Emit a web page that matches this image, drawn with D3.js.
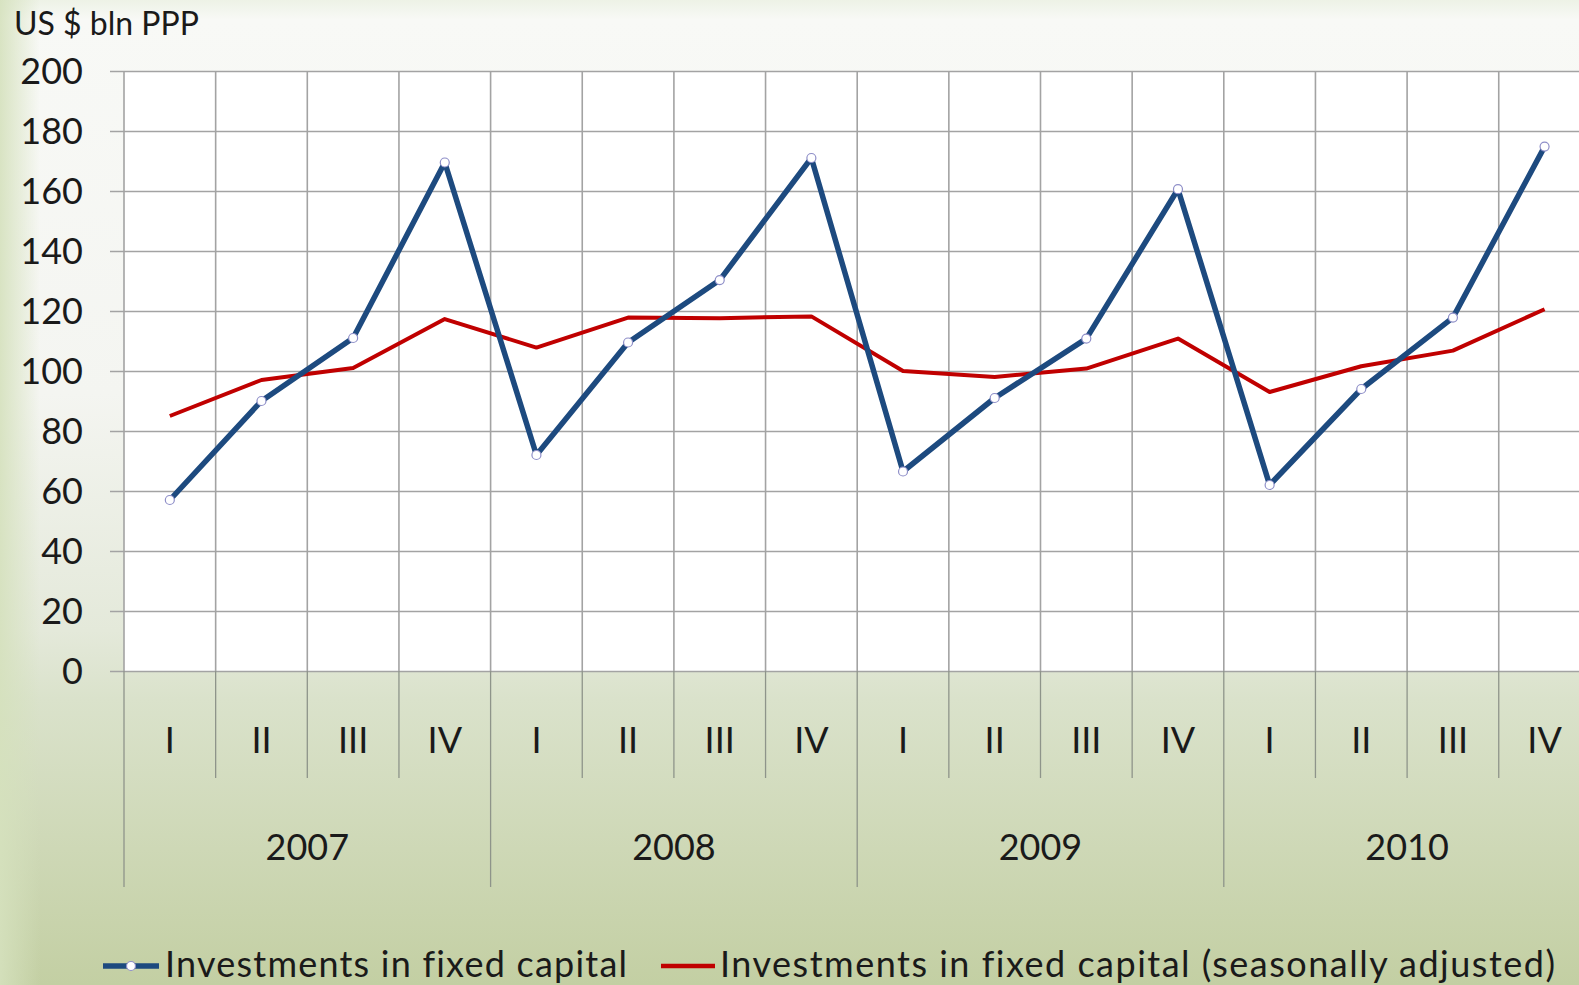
<!DOCTYPE html>
<html>
<head>
<meta charset="utf-8">
<script src="https://cdn.jsdelivr.net/npm/d3@7"></script>
<style>
  html, body { margin: 0; padding: 0; overflow: hidden; background: #f6f7f3; }
  svg { display: block; font-family: Lato, 'Open Sans', sans-serif; font-variant-ligatures: none; }
</style>
</head>
<body>
<div id="chart"></div>
<script>
const years = ['2007', '2008', '2009', '2010'];
const quarters = ['I', 'II', 'III', 'IV'];
const yTicks = [0, 20, 40, 60, 80, 100, 120, 140, 160, 180, 200];

// quarterly values, 2007 I .. 2010 IV
const investments = [57, 90, 111, 169.5, 72, 109.5, 130.3, 171, 66.5, 91, 110.8, 160.6, 62, 94, 117.8, 174.8];
const investmentsSA = [85, 97, 101, 117.3, 107.8, 117.8, 117.6, 118.2, 100, 98, 100.8, 110.8, 93, 101.6, 106.8, 120.6];

const seriesNames = ['Investments in fixed capital', 'Investments in fixed capital (seasonally adjusted)'];

const W = 1579, H = 985;
const plot = { left: 124, top: 71, bottom: 671 };
const bandW = 91.65;

const svg = d3.select('#chart').append('svg')
  .attr('width', W)
  .attr('height', H);

// background gradients
const defs = svg.append('defs');
const bg = defs.append('linearGradient')
  .attr('id', 'bg').attr('x1', 0).attr('y1', 0).attr('x2', 0).attr('y2', 1);
[[0, '#edf2e6'], [0.02, '#f8f9f6'], [0.4, '#f4f5f1'], [0.64, '#e4e9da'], [0.71, '#dae2cb'], [1, '#c3cfa3']]
  .forEach(([o, c]) => bg.append('stop').attr('offset', o).attr('stop-color', c));

const edge = defs.append('linearGradient')
  .attr('id', 'edge').attr('x1', 0).attr('y1', 0).attr('x2', 1).attr('y2', 0);
edge.append('stop').attr('offset', 0).attr('stop-color', '#d5e1bd').attr('stop-opacity', 0.9);
edge.append('stop').attr('offset', 1).attr('stop-color', '#d5e1bd').attr('stop-opacity', 0);

svg.append('rect').attr('width', W).attr('height', H).attr('fill', 'url(#bg)');
svg.append('rect').attr('width', 40).attr('height', H).attr('fill', 'url(#edge)');

// scales
const idx = d3.range(investments.length);
const x = d3.scaleBand()
  .domain(idx)
  .range([plot.left, plot.left + bandW * idx.length]);

const y = d3.scaleLinear()
  .domain([0, 200])
  .range([plot.bottom, plot.top]);

// white plot area
svg.append('rect')
  .attr('x', plot.left)
  .attr('y', plot.top)
  .attr('width', bandW * idx.length)
  .attr('height', plot.bottom - plot.top)
  .attr('fill', '#ffffff');

// horizontal grid + y labels
const yAxis = svg.append('g')
  .attr('transform', `translate(${plot.left},0)`)
  .call(d3.axisLeft(y).tickValues(yTicks).tickSize(-(W - plot.left)).tickPadding(0));
yAxis.select('.domain').remove();
yAxis.selectAll('.tick line')
  .attr('x1', -14)
  .attr('stroke', '#a3a3a3')
  .attr('stroke-width', 1.6);
yAxis.selectAll('.tick text')
  .attr('x', -41)
  .attr('dy', '0.36em')
  .style('font-size', '36px')
  .style('font-family', 'Lato, sans-serif')
  .attr('fill', '#1a1a1a');

// vertical grid lines in the plot
const bounds = d3.range(idx.length + 1).map((i) => (i < idx.length ? x(i) : x(i - 1) + x.bandwidth()));
svg.append('g').selectAll('line')
  .data(bounds)
  .enter().append('line')
  .attr('x1', (d) => d).attr('x2', (d) => d)
  .attr('y1', plot.top)
  .attr('y2', plot.bottom)
  .attr('stroke', '#a3a3a3')
  .attr('stroke-width', 1.6);

// category separators below the axis
svg.append('g').selectAll('line')
  .data(bounds)
  .enter().append('line')
  .attr('x1', (d) => d).attr('x2', (d) => d)
  .attr('y1', plot.bottom)
  .attr('y2', (d, i) => (i % 4 === 0 ? 887 : 778))
  .attr('stroke', '#8e948a')
  .attr('stroke-width', 1.3);

// quarter labels
svg.append('g').selectAll('text')
  .data(idx)
  .enter().append('text')
  .attr('x', (d) => x(d) + x.bandwidth() / 2)
  .attr('y', 753)
  .attr('text-anchor', 'middle')
  .style('font-size', '36px')
  .attr('fill', '#1a1a1a')
  .text((d) => quarters[d % 4]);

// year labels
svg.append('g').selectAll('text')
  .data(years)
  .enter().append('text')
  .attr('x', (d, i) => x(i * 4) + x.bandwidth() * 2)
  .attr('y', 860)
  .attr('text-anchor', 'middle')
  .style('font-size', '36px')
  .attr('fill', '#1a1a1a')
  .text((d) => d);

// axis title
svg.append('text')
  .attr('x', 14)
  .attr('y', 35)
  .style('font-size', '32px')
  .attr('fill', '#1a1a1a')
  .text('US $ bln PPP');

// lines
const line = (vals) => d3.line()
  .x((d, i) => x(i) + x.bandwidth() / 2)
  .y((d) => y(d))(vals);

svg.append('path')
  .attr('d', line(investmentsSA))
  .attr('fill', 'none')
  .attr('stroke', '#c00000')
  .attr('stroke-width', 4)
  .attr('stroke-linejoin', 'round');

svg.append('path')
  .attr('d', line(investments))
  .attr('fill', 'none')
  .attr('stroke', '#1d4a7f')
  .attr('stroke-width', 5.5)
  .attr('stroke-linejoin', 'round');

svg.append('g').selectAll('circle')
  .data(investments)
  .enter().append('circle')
  .attr('cx', (d, i) => x(i) + x.bandwidth() / 2)
  .attr('cy', (d) => y(d))
  .attr('r', 4.5)
  .attr('fill', '#ffffff')
  .attr('stroke', '#8e8ec8')
  .attr('stroke-width', 1.2);

// legend
const legend = svg.append('g');
legend.append('line')
  .attr('x1', 103).attr('x2', 159)
  .attr('y1', 966).attr('y2', 966)
  .attr('stroke', '#1d4a7f').attr('stroke-width', 5.5);
legend.append('circle')
  .attr('cx', 131).attr('cy', 966).attr('r', 4.5)
  .attr('fill', '#ffffff').attr('stroke', '#8e8ec8').attr('stroke-width', 1.2);
legend.append('text')
  .attr('x', 165).attr('y', 977)
  .attr('textLength', 462)
  .attr('lengthAdjust', 'spacing')
  .style('font-size', '36px')
  .attr('fill', '#1a1a1a')
  .text(seriesNames[0]);

legend.append('line')
  .attr('x1', 661).attr('x2', 715)
  .attr('y1', 966).attr('y2', 966)
  .attr('stroke', '#c00000').attr('stroke-width', 4.5);
legend.append('text')
  .attr('x', 720).attr('y', 977)
  .attr('textLength', 835)
  .attr('lengthAdjust', 'spacing')
  .style('font-size', '36px')
  .attr('fill', '#1a1a1a')
  .text(seriesNames[1]);
</script>
</body>
</html>
